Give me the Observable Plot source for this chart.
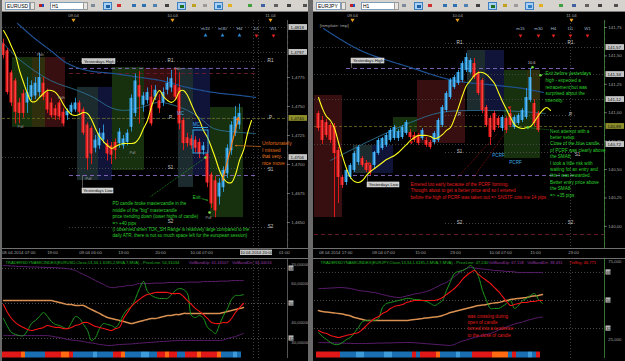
<!DOCTYPE html>
<html><head><meta charset="utf-8">
<script src="https://cdn.jsdelivr.net/npm/d3@7"></script>
<script src="https://cdn.jsdelivr.net/npm/@observablehq/plot@0.6"></script>
<style>
html,body{margin:0;padding:0;background:#5a5a5a;}
#root{position:relative;width:625px;height:361px;overflow:hidden;background:#6a6a6a;font-family:"Liberation Sans",Arial,sans-serif;}
.tb{position:absolute;top:0;height:12px;background:#d6d3ce;border-bottom:1px solid #7a7a7a;box-sizing:border-box;}
.cb{position:absolute;top:2px;height:8px;background:#fff;border:1px solid #7f9db9;font-size:5px;line-height:6px;padding-left:1px;box-sizing:border-box;color:#000;white-space:nowrap;}
.dd{position:absolute;top:2px;width:5px;height:8px;background:#e8e6e2;border:1px solid #9a9a9a;box-sizing:border-box;}
.ic{position:absolute;top:2px;width:9px;height:8px;box-sizing:border-box;}
.ic.hl{background:#a9d1f5;border:1px solid #3d7fc0;}
.ic i{position:absolute;left:2px;top:2px;width:4px;height:3px;}
</style></head><body><div id="root"></div><script>
// ================= LEFT CHART: EURUSD, H1 =================
const usdOpen  = [1.4804,1.4798,1.4779,1.4772,1.4753,1.4761,1.4753,1.4758,1.4759,1.4762,1.4770,1.4762,1.4753,1.4748,1.4753,1.4745,1.4742,1.4745,1.4747,1.4753,1.4747,1.4734,1.4731,1.4714,1.4716,1.4721,1.4718,1.4716,1.4719,1.4718,1.4716,1.4719,1.4732,1.4744,1.4768,1.4751,1.4755,1.4758,1.4758,1.4755,1.4753,1.4764,1.4766,1.4768,1.4766,1.4738,1.4723,1.4722,1.4721,1.4719,1.4712,1.4709,1.4691,1.4686,1.4672,1.4680,1.4692,1.4712,1.4727,1.4734];
const usdHigh  = [1.4808,1.4800,1.4781,1.4774,1.4757,1.4764,1.4775,1.4772,1.4775,1.4796,1.4775,1.4765,1.4757,1.4751,1.4755,1.4748,1.4748,1.4753,1.4757,1.4755,1.4749,1.4736,1.4733,1.4725,1.4731,1.4734,1.4721,1.4719,1.4722,1.4731,1.4725,1.4730,1.4760,1.4778,1.4780,1.4762,1.4766,1.4768,1.4768,1.4760,1.4766,1.4775,1.4781,1.4783,1.4779,1.4740,1.4727,1.4725,1.4724,1.4722,1.4719,1.4712,1.4693,1.4690,1.4688,1.4698,1.4717,1.4737,1.4750,1.4752];
const usdLow   = [1.4791,1.4760,1.4750,1.4735,1.4735,1.4740,1.4744,1.4755,1.4756,1.4758,1.4755,1.4744,1.4740,1.4738,1.4738,1.4733,1.4738,1.4743,1.4745,1.4743,1.4725,1.4695,1.4700,1.4710,1.4713,1.4718,1.4703,1.4700,1.4704,1.4714,1.4713,1.4716,1.4728,1.4741,1.4735,1.4745,1.4752,1.4733,1.4755,1.4744,1.4750,1.4760,1.4762,1.4755,1.4730,1.4712,1.4715,1.4713,1.4710,1.4705,1.4708,1.4680,1.4662,1.4654,1.4665,1.4676,1.4688,1.4708,1.4724,1.4730];
const usdClose = [1.4794,1.4762,1.4753,1.4745,1.4744,1.4744,1.4762,1.4768,1.4770,1.4775,1.4758,1.4747,1.4742,1.4742,1.4741,1.4735,1.4746,1.4751,1.4753,1.4745,1.4727,1.4705,1.4709,1.4721,1.4727,1.4727,1.4709,1.4708,1.4712,1.4728,1.4722,1.4727,1.4757,1.4772,1.4758,1.4759,1.4762,1.4735,1.4764,1.4748,1.4762,1.4770,1.4774,1.4758,1.4735,1.4718,1.4718,1.4716,1.4714,1.4709,1.4716,1.4684,1.4666,1.4660,1.4684,1.4695,1.4714,1.4734,1.4741,1.4744];
const usdSma8  = [1.48155,1.48095,1.48017,1.47940,1.47810,1.47707,1.47612,1.47543,1.47543,1.47578,1.47612,1.47638,1.47638,1.47621,1.47578,1.47517,1.47466,1.47431,1.47422,1.47431,1.47448,1.47440,1.47388,1.47310,1.47241,1.47198,1.47164,1.47138,1.47155,1.47172,1.47181,1.47181,1.47181,1.47190,1.47233,1.47310,1.47379,1.47500,1.47586,1.47638,1.47586,1.47552,1.47535,1.47560,1.47629,1.47638,1.47595,1.47517,1.47440,1.47379,1.47293,1.47233,1.47147,1.47052,1.46948,1.46879,1.46845,1.46845,1.46914,1.47035,1.47121,1.47267,1.47379];
const usdSlowBars = [3.5,7.5,11.75,16,21,27.5,34.25,39.25,46,52.5,59.25,63];
const usdSlowVals = [1.48216,1.48095,1.47983,1.47871,1.47810,1.47784,1.47750,1.47724,1.47664,1.47621,1.47595,1.47578];
const usdMidBars  = [-0.75,4.25,11.75,18.5,22.5,26.75,30,34.25,38.5,41,46,49.25,52.5,59.25,63];
const usdMidVals  = [1.48069,1.47897,1.47724,1.47638,1.47578,1.47491,1.47466,1.47491,1.47535,1.47526,1.47466,1.47397,1.47310,1.47276,1.47267];
const usdTdiPrice  = [42.3,38.2,35.1,34.1,33.5,33.5,36.1,39.7,41.3,43.3,45.4,43.3,40.7,39.2,38.7,37.7,37.1,40.2,43.3,42.3,39.2,36.1,31.0,32.5,37.1,39.7,39.2,38.7,37.7,40.2,44.3,46.9,48.5,52.6,57.7,61.3,56.2,54.1,53.1,52.6,52.6,52.6,54.6,56.7,57.7,57.2,55.1,43.8,42.8,43.8,42.3,37.7,36.1,34.6,39.2,43.8,47.4,52.1,54.1,54.1,54.6];
const usdTdiSignal = [49.5,45.4,42.3,40.2,38.7,37.7,36.6,36.1,36.6,37.1,37.7,38.7,38.2,37.7,37.7,37.1,37.1,37.7,38.7,39.2,40.2,40.2,39.2,38.2,37.7,37.1,36.6,36.1,37.1,37.7,42.3,45.4,48.5,50.5,52.1,53.6,54.6,55.1,55.7,55.7,55.7,55.7,55.1,55.1,55.1,53.6,51.5,49.5,47.4,45.9,44.3,42.3,40.2,39.7,39.7,40.2,40.2,42.3,45.4,47.9,50.0];
const usdTdiBase   = [51.5,51.5,51.5,51.5,51.5,51.5,51.5,51.5,51.5,51.5,51.5,51.5,51.5,51.0,50.5,50.0,49.5,49.5,49.0,49.0,49.0,47.9,46.9,45.9,44.9,43.8,42.8,42.3,41.8,41.3,40.7,40.2,39.7,40.2,40.7,41.3,41.8,42.3,42.3,42.8,43.3,43.8,43.8,44.3,44.3,44.9,44.9,44.9,44.9,44.9,44.9,44.9,44.9,44.9,44.9,45.4,45.9,46.4,46.9,47.4,47.9];
const usdVolUp = [69.5,69.5,69.3,69.2,69.0,69.0,68.9,68.8,68.8,68.7,68.6,68.5,68.5,68.4,68.3,68.1,68.0,67.5,67.0,65.9,64.9,63.9,62.9,61.8,60.8,59.8,58.7,58.2,58.2,58.7,58.7,59.3,59.3,59.8,60.3,60.3,60.3,60.3,60.5,60.5,60.5,60.8,60.8,60.8,60.8,60.8,61.0,61.0,61.0,61.0,61.3,61.3,61.3,61.3,61.5,61.5,61.5,61.8,61.8,61.8,61.8];
const usdVolDn = [33.5,33.5,33.5,33.5,33.5,33.5,33.5,33.5,33.5,33.5,33.5,33.5,33.2,32.8,32.5,32.0,31.5,31.2,31.0,30.7,30.5,29.9,29.7,29.4,28.9,28.7,28.4,28.4,28.7,28.9,29.0,29.1,29.2,29.4,29.6,29.7,29.9,30.0,30.2,30.4,30.5,30.6,30.8,30.9,31.0,31.0,31.0,31.0,31.0,31.0,31.0,31.0,31.0,31.0,31.0,31.2,32.0,32.5,33.0,33.8,34.6];
const usdStrip = "RRRRROBBBBBRRRROORBBBBBLBBBBRROBBBBLLBBRRORRBBRRRORRRROBBBLB";
const usdPriceTicks = [1.4775,1.4750,1.4725,1.4700,1.4675,1.4650];
const usdPriceBoxes = [1.48181,1.47966,1.47060];
const usdLastPrice = 1.47397;
const usdTimeLabels = ["08.04.2014 07:00","19:00","09.04 06:00","13:00","20:00","10.04 07:00","01:00"];
const usdTimeBars = [3.8,12.25,21.75,30,39.25,49.5,70.2];
const usdDateLabels = ["09.04","10.04","11.04"];
const usdDateBars = [17.5,42.25,66.75];
const usdPivots = [{n:"R1",p:1.47888},{n:"P",p:1.47397},{n:"S1",p:1.46966},{n:"S2",p:1.46457}];
const usdPivotLabelBars = [41.75,66.75];
const usdYHigh = 1.47828, usdYLow = 1.46905, usdPrevClose = 1.47784;
const usdSessions = [
  {a:2.25,b:7.25,lo:1.47319,hi:1.47922,k:"g"},{a:7.25,b:10.5,lo:1.47319,hi:1.47922,k:"o"},{a:10.5,b:15.5,lo:1.47319,hi:1.47922,k:"r"},
  {a:18.5,b:23.75,lo:1.46862,hi:1.47664,k:"s"},{a:23.75,b:27.25,lo:1.46862,hi:1.47664,k:"n"},{a:27.25,b:35.25,lo:1.46948,hi:1.47836,k:"g"},
  {a:35.25,b:43.75,lo:1.47552,hi:1.47828,k:"r"},{a:43.75,b:47.5,lo:1.46802,hi:1.47828,k:"s"},{a:47.5,b:51.75,lo:1.46905,hi:1.47828,k:"n"},
  {a:51.75,b:60,lo:1.46543,hi:1.47491,k:"g"}];
const usdTags = [{i:9.25,p:1.47948,t:"Pdh"},{i:4.25,p:1.47328,t:"Pdl"},{i:14.5,p:1.47578,t:"Pdh"},{i:32.25,p:1.47103,t:"Pdl"},{i:21.25,p:1.46879,t:"Pdl"},{i:43.5,p:1.47828,t:"Pdh"},{i:51.25,p:1.46543,t:"Pdl"}];
const usdTfLabels = ["m15","m30","H4","D1","W1"];
const usdTfBars = [50.5,54.75,59,63.25,67.5];
const usdTfDown = [false,false,false,true,true];
const usdNoteGreen = ["PD candle broke mastercandle in the","middle of the \"big\" mastercandle","price trending down (lower highs of candle)","=> +40 pips","(I observed when TOK_SH Range is relatively large compared to the","daily ATR, there is not so much space left for the european session)"];
const usdNoteOrange = ["Unfortunately","I missed","that very","nice move"];

// ================= RIGHT CHART: EURJPY, H1 =================
const jpyOpen  = [140.993,140.932,140.914,140.888,140.879,140.668,140.430,140.386,140.430,140.492,140.562,140.597,140.553,140.536,140.536,140.641,140.685,140.712,140.756,140.773,140.773,140.782,140.817,140.826,140.800,140.800,140.773,140.756,140.738,140.738,140.756,140.888,141.020,141.134,141.222,141.257,141.284,141.372,141.354,141.433,141.345,141.284,141.046,140.949,140.993,140.949,140.861,140.949,140.993,140.870,140.905,140.932,140.958,141.108,141.081,140.993];
const jpyHigh  = [141.011,140.967,140.940,140.905,140.905,140.694,140.448,140.509,140.553,140.659,140.712,140.615,140.580,140.553,140.659,140.773,140.782,140.817,140.861,140.888,140.852,140.888,140.932,140.852,140.826,140.817,140.861,140.782,140.756,140.835,140.949,141.064,141.187,141.301,141.328,141.372,141.451,141.521,141.477,141.477,141.363,141.301,141.064,140.967,141.011,140.967,140.976,140.967,141.028,140.976,140.993,141.037,141.213,141.389,141.117,141.011];
const jpyLow   = [140.835,140.720,140.780,140.729,140.078,140.201,140.333,140.360,140.412,140.474,140.536,140.518,140.474,140.448,140.509,140.624,140.668,140.694,140.738,140.756,140.747,140.764,140.800,140.764,140.738,140.712,140.756,140.694,140.676,140.720,140.738,140.870,141.002,141.117,141.205,141.240,141.266,141.354,141.340,141.292,141.152,140.993,140.870,140.712,140.826,140.861,140.835,140.817,140.870,140.852,140.888,140.914,140.940,141.090,140.879,140.826];
const jpyClose = [140.861,140.756,140.800,140.756,140.641,140.430,140.360,140.492,140.536,140.641,140.694,140.536,140.492,140.474,140.650,140.756,140.773,140.800,140.844,140.870,140.835,140.870,140.914,140.782,140.756,140.729,140.844,140.712,140.694,140.817,140.932,141.046,141.169,141.284,141.310,141.354,141.433,141.486,141.460,141.310,141.169,141.020,140.888,140.782,140.844,140.888,140.958,140.844,140.888,140.958,140.976,141.020,141.134,141.310,140.905,140.844];
const jpySma8  = [141.134,141.037,140.967,140.932,140.861,140.738,140.615,140.509,140.430,140.395,140.386,140.404,140.448,140.483,140.509,140.536,140.562,140.588,140.606,140.624,140.650,140.685,140.720,140.756,140.782,140.800,140.800,140.800,140.791,140.773,140.782,140.808,140.844,140.870,140.949,141.046,141.152,141.240,141.284,141.328,141.354,141.354,141.336,141.301,141.257,141.178,141.099,141.028,140.958,140.896,140.870,140.861,140.870,140.879,140.923,140.976,141.020,141.046,141.020];
const jpySlowBars = [1.25,10.5,23,33.75,44.75,51.25,56.25];
const jpySlowVals = [141.741,141.548,141.398,141.284,141.240,141.213,141.178];
const jpyMidBars  = [3,13,23,30.5,40.5,50.5,56.75];
const jpyMidVals  = [140.580,140.756,140.914,141.002,141.020,141.011,140.993];
const jpyTdiPrice  = [29.5,26.9,25.0,23.1,21.8,21.8,23.1,25.0,26.3,29.5,32.7,36.5,37.2,37.2,37.2,38.5,45.5,48.1,48.7,49.4,50,50.6,51.3,51.3,50.6,50.6,50,49.4,48.1,46.8,48.1,50,56.4,62.2,67.3,68.6,69.2,70.5,72.4,69.9,65.4,56.4,50,44.9,44.9,44.9,46.2,48.1,50,44.9,46.8,50,51.3,53.2,54.5,50.6,48.1];
const jpyTdiSignal = [30.8,29.5,28.8,27.6,26.9,26.3,26.9,27.6,28.2,28.8,29.5,31.4,34.0,36.5,38.5,39.7,41.7,42.9,44.9,46.2,46.8,47.4,48.7,49.4,50,50,50,50,50,50,50.6,51.9,53.8,55.8,57.7,60.3,63.5,66.0,67.9,69.2,66.7,64.7,62.8,60.9,58.3,55.8,52.6,49.4,46.8,47.4,48.1,48.7,48.7,49.4,49.4,50,50];
const jpyTdiBase   = [43.6,42.9,42.6,42.3,42.0,41.7,41.3,40.7,40.1,39.1,38.5,37.8,37.2,37.2,37.2,37.2,37.2,37.2,37.2,37.2,37.2,37.2,37.2,37.5,37.8,38.1,38.5,38.8,39.1,39.4,39.7,40.4,41.3,42.3,42.9,43.6,44.2,44.9,45.5,46.2,46.8,47.1,47.4,48.1,48.4,48.7,49.4,50,50.6,51.0,51.3,51.6,51.9,52.6,52.9,53.2,53.8];
const jpyVolUp = [57.7,57.7,57.8,58.0,58.1,58.3,58.3,58.0,57.7,57.1,56.4,56.1,55.8,55.4,55.1,54.5,53.8,53.2,52.6,52.2,51.9,52.2,52.9,53.5,54.2,54.5,55.1,55.8,56.7,58.0,59.3,60.6,61.5,63.5,65.4,67.3,69.2,70.5,71.2,70.8,70.5,70.2,69.9,69.6,69.2,69.2,68.9,68.6,68.6,68.3,67.9,67.9,67.9,67.9,67.9,67.9,67.9];
const jpyVolDn = [23.1,23.0,22.9,22.9,22.8,22.7,22.6,22.6,22.5,22.4,22.4,22.4,22.5,22.5,22.6,22.7,22.7,22.8,22.8,22.9,23.0,23.0,23.1,23.1,22.9,22.7,22.5,22.3,22.1,21.9,21.7,21.5,21.3,21.2,21.8,23.1,24.0,24.7,25.6,26.3,26.9,27.6,28.2,28.8,29.8,31.1,32.1,33.0,34.0,34.9,35.6,36.2,37.2,37.8,38.5,39.1,39.4];
const jpyStrip = "RRRRRRBBBBLLBBBBBLLBBBBBRBRRRROBBBBLBBBRRRRROOOOBRBBBLBR";
const jpyPriceTicks = [141.75,141.50,141.25,141.00,140.75,140.50,140.25,140.00];
const jpyPriceBoxes = [141.574,141.336,141.116,140.720];
const jpyLastPrice = 140.879;
const jpyTimeLabels = ["08.04.2014 17:00","09.04 07:00","15:00","23:00","10.04 07:00","15:00","23:00"];
const jpyTimeBars = [4.3,16.25,25.5,34.25,45.5,54.25,63.75];
const jpyDateLabels = ["09.04","10.04","11.04"];
const jpyDateBars = [8.5,34.75,63.25];
const jpyPivots = [{n:"R1",p:141.609},{n:"P",p:140.976},{n:"S1",p:140.650},{n:"S2",p:140.025}];
const jpyPivotLabelBars = [35.25,63];
const jpyYHigh = 141.389, jpyYLow = 140.448, jpyPrevClose = 139.928;
const jpySessions = [
  {a:-1,b:6,lo:140.078,hi:141.152,k:"r"},{a:8.75,b:13.5,lo:140.465,hi:140.712,k:"s"},{a:13.5,b:18.75,lo:140.465,hi:140.712,k:"n"},
  {a:18.75,b:24.75,lo:140.826,hi:140.958,k:"g"},{a:24.75,b:36.75,lo:140.729,hi:141.284,k:"r"},{a:37.25,b:41.75,lo:141.020,hi:141.548,k:"s"},
  {a:41.75,b:46.5,lo:141.020,hi:141.548,k:"n"},{a:46.5,b:55.5,lo:140.597,hi:141.372,k:"g"},{a:52.25,b:55.5,lo:141.108,hi:141.372,k:"o"}];
const jpyTfLabels = ["m15","m30","H4","D1","W1"];
const jpyTfBars = [50.5,55,58.75,63,67.25];
const jpyTfDown = [true,true,true,true,true];
const jpyNoteExit = ["Exit before yesterdays","high - expected a","retracement but was","surprised about the","intensity."];
const jpyNoteNext = ["Next attempt with a","better setup.","Close of the blue candle","of PCRF was clearly above","the SMA8.","I took a little risk with","waiting for an entry and","this I was rewarded.","Better entry price above","the SMA8.","=> +35 pips"];
const jpyNoteRed = ["Entered too early because of the PCRF forming.","Thought about to get a better price and so I entered","before the high of PCRF was taken out => SNSTF cost me 14 pips"];
const jpyNoteTdi = ["was crossing during","open of candle","turned into a tendence","to the close of candle"];

// ================= drawing =================
const BULL="#2b9de2", BULL_HI="#9ad6ff", BEAR="#ee1c1c", BEAR_HI="#ff7070";
const SESS={g:"#17310f",o:"#2f2f0e",r:"#380f10",n:"#0f1438",s:"#1c2b2d"};
const STRIP={R:"#e01818",O:"#ff6a12",B:"#1a6fb2",L:"#3c9bd8"};
const FONT="Liberation Sans, Arial, sans-serif";
const GRAY="#a3a3a3";
const root=document.getElementById("root");
const comma=(v,d)=>v.toFixed(d).replace(".",",");

function place(svg,left,top){svg.style.position="absolute";svg.style.left=left+"px";svg.style.top=top+"px";root.appendChild(svg);}

function mainPanel(c){
  const cs=c.open.map((o,i)=>({i,o,h:c.high[i],l:c.low[i],c:c.close[i]}));
  const up=d=>d.c>=d.o;
  const [y0,y1]=c.y,[x0,x1]=c.x;
  const ppx=(y1-y0)/228, bpx=(x1-x0)/c.fw;
  const sma=c.sma.map((v,i)=>({i,v}));
  const slow=c.slowBars.map((b,k)=>({i:b,v:c.slowVals[k]}));
  const mid=c.midBars.map((b,k)=>({i:b,v:c.midVals[k]}));
  const minor=d3.range(Math.ceil(y0/c.minorStep)*c.minorStep,y1,c.minorStep);
  const boxes=c.boxes.map(p=>({p,t:comma(p,c.dec)}));
  const pivLabels=c.pivLabelBars.flatMap((b,k)=>c.pivots.map(p=>{
    const s=(c.pivShift[k]||{})[p.n]||[0,0];
    return {i:b+s[0]*bpx,p:p.p+s[1]*ppx,t:p.n};}));
  const marks=[
    Plot.rect(c.sessions,{x1:"a",x2:"b",y1:"lo",y2:"hi",fill:d=>SESS[d.k]}),
    Plot.ruleY(c.boxes,{stroke:"#4e4e4e",strokeDasharray:"1,2",strokeWidth:0.8}),
    Plot.ruleY([c.last],{stroke:"#66661e",strokeDasharray:"3,2",strokeWidth:0.9}),
    Plot.ruleY([c.prevClose],{x1:()=>c.prevSpan[0],x2:()=>c.prevSpan[1],stroke:"#6e1c2c",strokeDasharray:"4,3",strokeWidth:0.9}),
    Plot.ruleY(c.pivots,{y:"p",x1:()=>c.pivSpan[0],x2:()=>c.pivSpan[1],stroke:"#5e5e5e",strokeDasharray:"1,2",strokeWidth:0.7}),
    Plot.ruleY([c.yHigh,c.yLow],{x1:()=>c.ySpan[0],x2:()=>c.ySpan[1],stroke:"#8a6cc6",strokeDasharray:"4,3",strokeWidth:0.9}),
    Plot.ruleX(c.vlines,{stroke:"#5a5a5a",strokeDasharray:"1,2",strokeWidth:0.7}),
    Plot.line(slow,{x:"i",y:"v",stroke:"#1f5294",strokeWidth:1.2,strokeDasharray:"1.5,0.8",curve:"catmull-rom"}),
    Plot.line(mid,{x:"i",y:"v",stroke:"#2c6f92",strokeWidth:0.9,curve:"catmull-rom"}),
    Plot.ruleX(cs,{x:"i",y1:"l",y2:"h",stroke:d=>up(d)?BULL:BEAR,strokeWidth:0.9}),
    Plot.rect(cs,{x1:d=>d.i-0.38,x2:d=>d.i+0.38,y1:"o",y2:"c",fill:d=>up(d)?BULL:BEAR}),
    Plot.ruleX(cs,{x:"i",y1:"o",y2:"c",stroke:d=>up(d)?BULL_HI:BEAR_HI,strokeWidth:0.6,strokeOpacity:0.8}),
    Plot.line(sma,{x:"i",y:"v",stroke:"#ffff1e",strokeWidth:1.1,curve:"catmull-rom"}),
    Plot.text(pivLabels,{x:"i",y:"p",text:"t",fill:"#c8c8c8",fontSize:4.6,dy:-1}),
    Plot.text(c.tfLabels.map((t,k)=>({i:c.tfBars[k],t})),{x:"i",y:()=>y1-8*ppx,text:"t",fill:"#9fb3c8",fontSize:4.4}),
    Plot.dot(c.tfDown.map((d,k)=>({i:c.tfBars[k],d})),{x:"i",y:()=>y1-15*ppx,symbol:"triangle",rotate:d=>d.d?180:0,r:1.4,fill:d=>d.d?"#e02020":"#2a8ad8",stroke:"none"}),
    Plot.ruleX([x1],{stroke:c.axisColor,strokeWidth:0.8}),
    Plot.ruleY(minor,{x1:()=>x1,x2:()=>x1+1.3*bpx,stroke:"#7a7a7a",strokeWidth:0.5}),
    Plot.ruleY(c.ticks,{x1:()=>x1,x2:()=>x1+3*bpx,stroke:"#9a9a9a",strokeWidth:0.6}),
    Plot.text(c.ticks,{x:()=>x1+3.8*bpx,y:d=>d,text:d=>comma(d,c.dec),textAnchor:"start",fill:GRAY,fontSize:4.4}),
    Plot.rect(boxes,{x1:()=>x1+1.5*bpx,x2:()=>x1+20*bpx,y1:d=>d.p-2.9*ppx,y2:d=>d.p+2.9*ppx,fill:"#c4c4c4"}),
    Plot.text(boxes,{x:()=>x1+3*bpx,y:"p",text:"t",textAnchor:"start",fill:"#111",fontSize:4.4}),
    Plot.rect([c.last],{x1:()=>x1+1.5*bpx,x2:()=>x1+20*bpx,y1:d=>d-2.9*ppx,y2:d=>d+2.9*ppx,fill:"#8e8e2a"}),
    Plot.text([c.last],{x:()=>x1+3*bpx,y:d=>d,text:d=>comma(d,c.dec),textAnchor:"start",fill:"#111",fontSize:4.4}),
    Plot.ruleY([y0],{x1:()=>x0-2*bpx,x2:()=>x1+30*bpx,stroke:"#707070",strokeWidth:1}),
    Plot.text(c.timeLabels.map((t,k)=>({i:c.timeBars[k],t})),{x:"i",y:()=>y0-4.4*ppx,text:"t",fill:GRAY,fontSize:4.3}),
    Plot.text(c.dateLabels.map((t,k)=>({i:c.dateBars[k],t})),{x:"i",y:()=>y1+4.6*ppx,text:"t",fill:GRAY,fontSize:4.3}),
    Plot.dot(c.dateBars,{x:d=>d,y:()=>y1+0.5*ppx,symbol:"triangle",rotate:180,r:1.5,fill:"#e8a020",stroke:"none"})
  ];
  return {marks,ppx,bpx,y0,y1,x0,x1};
}

function plotMain(c,extra,left){
  const m=mainPanel(c);
  const svg=Plot.plot({width:c.w,height:244,marginLeft:c.ml,marginRight:c.mr,marginTop:8,marginBottom:8,
    x:{domain:c.x,axis:null},y:{domain:c.y,axis:null},
    style:{background:"#000",fontFamily:FONT,overflow:"hidden"},
    marks:[...m.marks,...extra(m)]});
  place(svg,left,12);
}

function plotTdi(c,extra,left){
  const [v0,v1]=c.v,[x0,x1]=c.x;
  const vpx=(v1-v0)/100,bpx=(x1-x0)/c.fw;
  const ser=a=>a.map((v,i)=>({i,v}));
  const strip=[...c.strip].map((k,i)=>({i,k}));
  const marks=[
    Plot.ruleY([v1],{x1:()=>x0-2*bpx,x2:()=>x1+30*bpx,stroke:"#707070",strokeWidth:1.2}),
    Plot.ruleY([68,50,32],{stroke:"#5e5e5e",strokeDasharray:"1,2",strokeWidth:0.8}),
    Plot.ruleX(c.vlines,{stroke:"#5a5a5a",strokeDasharray:"1,2",strokeWidth:0.7}),
    Plot.line(ser(c.volUp),{x:"i",y:"v",stroke:"#5a1c6c",strokeWidth:1,curve:"catmull-rom"}),
    Plot.line(ser(c.volDn),{x:"i",y:"v",stroke:"#5a1c6c",strokeWidth:1,curve:"catmull-rom"}),
    Plot.line(ser(c.base),{x:"i",y:"v",stroke:"#d99050",strokeWidth:1.5,curve:"catmull-rom"}),
    Plot.line(ser(c.price),{x:"i",y:"v",stroke:"#1d9a1d",strokeWidth:1,curve:"catmull-rom"}),
    Plot.line(ser(c.signal),{x:"i",y:"v",stroke:"#f01414",strokeWidth:1.1,curve:"catmull-rom"}),
    Plot.rect(strip,{x1:d=>d.i-0.5,x2:d=>d.i+0.5,y1:()=>v0+0.5*vpx,y2:()=>v0+6.5*vpx,fill:d=>STRIP[d.k]}),
    Plot.ruleX([x1],{stroke:c.axisColor,strokeWidth:0.8}),
    Plot.text(c.ticks,{x:()=>x1+3.8*bpx,y:d=>d,text:d=>comma(d,c.tdec),textAnchor:"start",fill:GRAY,fontSize:4.3}),
    Plot.rect([68,50,32],{x1:()=>x1+1.5*bpx,x2:()=>x1+6.5*bpx,y1:d=>d-2.6*vpx,y2:d=>d+2.6*vpx,fill:"#b8b8b8"}),
    Plot.text([68,50,32],{x:()=>x1+4*bpx,y:d=>d,text:d=>String(d),fill:"#111",fontSize:4}),
    Plot.text(c.title,{x:"i",y:()=>v1-4*vpx,text:"t",fill:"c",textAnchor:"start",fontSize:4.1})
  ];
  const svg=Plot.plot({width:c.w,height:105,marginLeft:c.ml,marginRight:c.mr,marginTop:2,marginBottom:3,
    x:{domain:c.x,axis:null},y:{domain:c.v,axis:null},
    style:{background:"#000",fontFamily:FONT,overflow:"hidden"},
    marks:[...marks,...extra(vpx)]});
  place(svg,left,256);
}

// ---------- LEFT ----------
const usdCfg={open:usdOpen,high:usdHigh,low:usdLow,close:usdClose,sma:usdSma8,slowBars:usdSlowBars,slowVals:usdSlowVals,midBars:usdMidBars,midVals:usdMidVals,
  x:[-0.25,71],y:[1.46276,1.48241],fw:285,w:306,ml:0,mr:21,dec:4,minorStep:0.0005,ticks:usdPriceTicks,boxes:usdPriceBoxes,last:usdLastPrice,
  sessions:usdSessions,pivots:usdPivots,pivLabelBars:usdPivotLabelBars,pivShift:[{S2:[0,5]},{S1:[0,-2]}],pivSpan:[16.5,67.5],ySpan:[16.5,63.75],prevSpan:[16.5,63.75],
  yHigh:usdYHigh,yLow:usdYLow,prevClose:usdPrevClose,vlines:[62.5,63.75],tfLabels:usdTfLabels,tfBars:usdTfBars,tfDown:usdTfDown,
  timeLabels:usdTimeLabels,timeBars:usdTimeBars,dateLabels:usdDateLabels,dateBars:usdDateBars,axisColor:"#6a6a6a"};
plotMain(usdCfg,m=>{
  const p=m.ppx;
  return [
    Plot.rect([{a:19.75,b:28,lo:usdYHigh+4.2*p,hi:usdYHigh+9.3*p}],{x1:"a",x2:"b",y1:"lo",y2:"hi",fill:"#c9c9c9",stroke:"#f0f0f0",strokeWidth:0.5}),
    Plot.text(["Yesterdays High"],{x:()=>23.9,y:()=>usdYHigh+6.8*p,text:d=>d,fill:"#111",fontSize:4.2}),
    Plot.rect([{a:19.75,b:27.5,lo:usdYLow-18*p,hi:usdYLow-13*p}],{x1:"a",x2:"b",y1:"lo",y2:"hi",fill:"#c9c9c9",stroke:"#f0f0f0",strokeWidth:0.5}),
    Plot.text(["Yesterdays Low"],{x:()=>23.6,y:()=>usdYLow-15.5*p,text:d=>d,fill:"#111",fontSize:4.2}),
    Plot.ruleX([19.75],{y1:()=>usdYLow,y2:()=>usdYLow-13*p,stroke:"#888",strokeWidth:0.6}),
    Plot.text(usdTags,{x:"i",y:"p",text:"t",fill:"#9a9a9a",fontSize:4}),
    Plot.rect([{a:47.5,b:51.25,lo:1.47095,hi:1.47293}],{x1:"a",x2:"b",y1:"lo",y2:"hi",fill:"none",stroke:"#38b4ea",strokeWidth:0.9}),
    Plot.ruleY([1.47319],{x1:()=>47.5,x2:()=>51.25,stroke:"#38b4ea",strokeWidth:0.9}),
    Plot.text([{i:44.25,p:1.4744},{i:48.2,p:1.47345}],{x:"i",y:"p",text:()=>"MC",fill:"#3aa8e0",fontSize:4.6}),
    Plot.arrow([{a:54.75,pa:1.46862,b:58.75,pb:1.47405}],{x1:"a",y1:"pa",x2:"b",y2:"pb",stroke:"#ff7a12",strokeWidth:1.1,headLength:4}),
    Plot.arrow([{a:64.25,pa:1.47155,b:58,pb:1.47164}],{x1:"a",y1:"pa",x2:"b",y2:"pb",stroke:"#e0701a",strokeWidth:0.7,strokeDasharray:"2,1",headLength:3}),
    Plot.text([usdNoteOrange.join("\n")],{x:()=>64.6,y:()=>1.47203,text:d=>d,textAnchor:"start",lineAnchor:"top",lineHeight:1.28,fill:"#e0701a",fontSize:5}),
    Plot.link([{a:36.75,pa:1.46724,b:50.5,pb:1.4706}],{x1:"a",y1:"pa",x2:"b",y2:"pb",stroke:"#2ecc2e",strokeWidth:0.6,strokeDasharray:"1,1"}),
    Plot.dot([{i:50.5,p:1.4706},{i:51.5,p:1.46586}],{x:"i",y:"p",r:1.3,fill:"#7ee04a",stroke:"none"}),
    Plot.text(["Exit"],{x:()=>48.3,y:()=>1.46716,text:d=>d,fill:"#30d030",fontSize:4.6}),
    Plot.arrow([{a:49.6,pa:1.46705,b:51,pb:1.46692}],{x1:"a",y1:"pa",x2:"b",y2:"pb",stroke:"#30d030",strokeWidth:0.6,headLength:2}),
    Plot.text([usdNoteGreen.join("\n")],{x:()=>27.25,y:()=>1.46686,text:d=>d,textAnchor:"start",lineAnchor:"top",lineHeight:1.42,fill:"#2bd12b",fontSize:4.5}),
    Plot.rect([{a:59.25,b:67.25}],{x1:"a",x2:"b",y1:()=>usdCfg.y[0]-7*p,y2:()=>usdCfg.y[0]-1.6*p,fill:"#c4c4c4"}),
    Plot.text(["10.04.2014 20:00"],{x:()=>63.25,y:()=>usdCfg.y[0]-4.4*p,text:d=>d,fill:"#111",fontSize:4.2})
  ];
},2);
plotTdi({x:[-0.25,71],v:[21.71,73.15],fw:285,w:306,ml:0,mr:21,price:usdTdiPrice,signal:usdTdiSignal,base:usdTdiBase,volUp:usdVolUp,volDn:usdVolDn,
  strip:usdStrip,vlines:[62.5,63.75],ticks:[70,60,40,30],tdec:5,axisColor:"#6a6a6a",
  title:[{i:0.5,t:"TRADERSDYNAMICINDEX(EURUSD,Close,13,34,1.6185,2,MVA,7,MVA) - PriceLine: 54,31034",c:"#22b822"},
         {i:46.3,t:"VolBandUp: 61,43107   VolBandDn: 34,44016",c:"#9a3aaa"}]},()=>[],2);

// ---------- RIGHT ----------
const jpyCfg={open:jpyOpen,high:jpyHigh,low:jpyLow,close:jpyClose,sma:jpySma8,slowBars:jpySlowBars,slowVals:jpySlowVals,midBars:jpyMidBars,midVals:jpyMidVals,
  x:[-1,71.5],y:[139.8052,141.8116],fw:290,w:312,ml:1,mr:21,dec:2,minorStep:0.05,ticks:jpyPriceTicks,boxes:jpyPriceBoxes,last:jpyLastPrice,
  sessions:jpySessions,pivots:jpyPivots,pivLabelBars:jpyPivotLabelBars,pivShift:[{},{S1:[7,-3.2]}],pivSpan:[31.75,64.25],ySpan:[7,64.25],prevSpan:[-1,71.5],
  yHigh:jpyYHigh,yLow:jpyYLow,prevClose:jpyPrevClose,vlines:[63],tfLabels:jpyTfLabels,tfBars:jpyTfBars,tfDown:jpyTfDown,
  timeLabels:jpyTimeLabels,timeBars:jpyTimeBars,dateLabels:jpyDateLabels,dateBars:jpyDateBars,axisColor:"#3f8f3f"};
plotMain(jpyCfg,m=>{
  const p=m.ppx;
  return [
    Plot.text(["[template: tmp]"],{x:()=>0.3,y:()=>141.768,text:d=>d,textAnchor:"start",fill:GRAY,fontSize:4.4}),
    Plot.rect([{a:8.25,b:16.5,lo:jpyYHigh+5*p,hi:jpyYHigh+10*p}],{x1:"a",x2:"b",y1:"lo",y2:"hi",fill:"#c9c9c9",stroke:"#f0f0f0",strokeWidth:0.5}),
    Plot.text(["Yesterdays High"],{x:()=>12.4,y:()=>jpyYHigh+7.5*p,text:d=>d,fill:"#111",fontSize:4.2}),
    Plot.ruleX([8.25],{y1:()=>jpyYHigh,y2:()=>jpyYHigh+5*p,stroke:"#888",strokeWidth:0.6}),
    Plot.rect([{a:12.25,b:20.25,lo:jpyYLow-12*p,hi:jpyYLow-7*p}],{x1:"a",x2:"b",y1:"lo",y2:"hi",fill:"#c9c9c9",stroke:"#f0f0f0",strokeWidth:0.5}),
    Plot.text(["Yesterdays Low"],{x:()=>16.25,y:()=>jpyYLow-9.5*p,text:d=>d,fill:"#111",fontSize:4.2}),
    Plot.ruleX([12.25],{y1:()=>jpyYLow,y2:()=>jpyYLow-7*p,stroke:"#888",strokeWidth:0.6}),
    Plot.text(["10.6"],{x:()=>53.3,y:()=>141.442,text:d=>d,fill:"#cfcfcf",fontSize:4}),
    Plot.dot([{i:53.5,p:141.40},{i:55.5,p:141.33},{i:52.3,p:140.87}],{x:"i",y:"p",r:1.3,fill:"#6ee040",stroke:"none"}),
    Plot.link([{a:55.5,pa:141.33,b:56.7,pb:141.345},{a:52.3,pa:140.87,b:57.8,pb:140.848}],{x1:"a",y1:"pa",x2:"b",y2:"pb",stroke:"#2ecc2e",strokeWidth:0.6,strokeDasharray:"1,1"}),
    Plot.text([jpyNoteExit.join("\n")],{x:()=>56.75,y:()=>141.374,text:d=>d,textAnchor:"start",lineAnchor:"top",lineHeight:1.47,fill:"#2bd12b",fontSize:4.6}),
    Plot.text([jpyNoteNext.join("\n")],{x:()=>57.9,y:()=>140.864,text:d=>d,textAnchor:"start",lineAnchor:"top",lineHeight:1.39,fill:"#2bd12b",fontSize:4.6}),
    Plot.dot([{i:47.75,p:141.046},{i:12.5,p:140.553},{i:23.2,p:140.74}],{x:"i",y:"p",symbol:"triangle",rotate:180,r:1.4,fill:"#e02020",stroke:"none"}),
    Plot.link([{a:34.75,pa:140.43,b:44.75,pb:140.817},{a:38.75,pa:140.43,b:47,pb:140.835}],{x1:"a",y1:"pa",x2:"b",y2:"pb",stroke:"#c01818",strokeWidth:0.6,strokeDasharray:"1,1"}),
    Plot.text([jpyNoteRed.join("\n")],{x:()=>23,y:()=>140.397,text:d=>d,textAnchor:"start",lineAnchor:"top",lineHeight:1.41,fill:"#e01c1c",fontSize:4.6}),
    Plot.text([{i:45,p:140.624},{i:49.25,p:140.562}],{x:"i",y:"p",text:()=>"PCRF",fill:"#3aa8e0",fontSize:4.6})
  ];
},313);
plotTdi({x:[-1,71.5],v:[12.82,76.92],fw:290,w:312,ml:1,mr:21,price:jpyTdiPrice,signal:jpyTdiSignal,base:jpyTdiBase,volUp:jpyVolUp,volDn:jpyVolDn,
  strip:jpyStrip,vlines:[63],ticks:[75,25],tdec:3,axisColor:"#3f8f3f",
  title:[{i:0.5,t:"TRADERSDYNAMICINDEX(EURJPY,Close,13,34,1.6185,2,MVA,7,MVA) - PriceLine: 47,240",c:"#22b822"},
         {i:42.5,t:"VolBandUp: 67,158   VolBandDn: 38,431",c:"#9a3aaa"},
         {i:62.7,t:"TrdSig: 46,771",c:"#e01c1c"}]},vpx=>[
  Plot.text([jpyNoteTdi.join("\n")],{x:()=>37.25,y:()=>41.9,text:d=>d,textAnchor:"start",lineAnchor:"top",lineHeight:1.37,fill:"#e01c1c",fontSize:4.6})
],313);

// ---------- toolbars (window chrome) ----------
const tbIcons=[[87,0,"#7a8a9a"],[101,1,"#2060a0"],[113,0,"#d03030"],[128,0,"#3070b0"],[138,0,"#3070b0"],[149,0,"#5080b0"],[161,0,"#404040"],[175,1,"#207020"],[188,0,"#c0a020"],[199,0,"#9a9a9a"],[212,1,"#3080c0"],[224,0,"#e0b020"],[244,0,"#40a040"],[257,0,"#4060a0"],[270,0,"#606060"],[283,0,"#404040"],[299,0,"#505050"]];
function toolbar(left,width,sym){
  const tb=document.createElement("div");tb.className="tb";tb.style.left=left+"px";tb.style.width=width+"px";
  const add=(cls,x,w,txt)=>{const e=document.createElement("div");e.className=cls;e.style.left=x+"px";if(w)e.style.width=w+"px";if(txt)e.textContent=txt;tb.appendChild(e);return e;};
  add("cb",3,25,sym);add("dd",28,0);
  const f=add("ic",35,9);f.innerHTML='<i style="background:#c02020;width:3px"></i><i style="left:5px;background:#2050c0;width:2px"></i>';
  add("cb",48,34,"H1");add("dd",81,0);
  tbIcons.forEach(([x,h,c])=>{const e=add("ic"+(h?" hl":""),x,9);e.innerHTML='<i style="background:'+c+'"></i>';});
  root.appendChild(tb);
}
toolbar(2,306,"EURUSD");
toolbar(313,312,"EURJPY");
</script></body></html>
